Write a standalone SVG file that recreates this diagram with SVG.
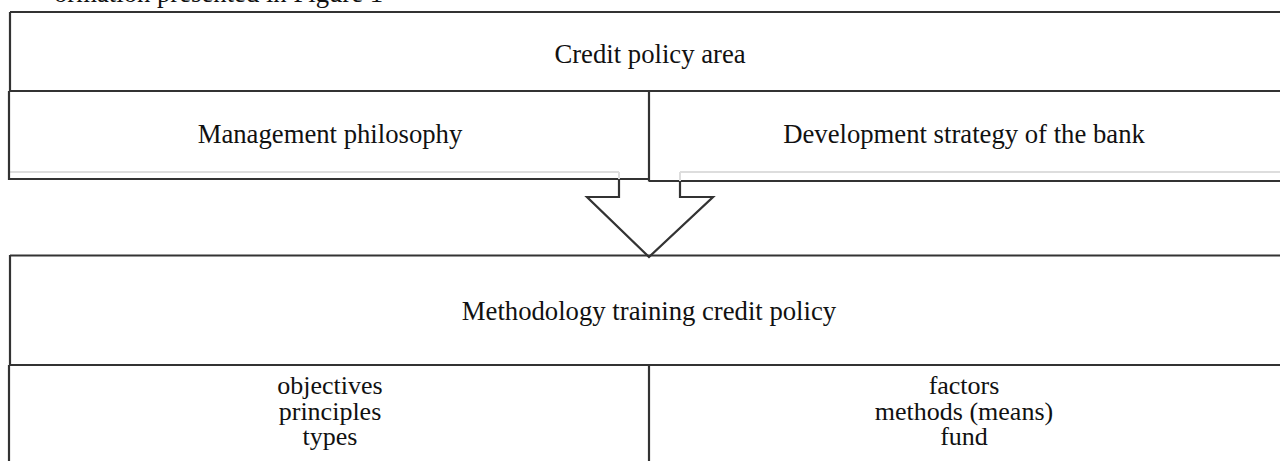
<svg xmlns="http://www.w3.org/2000/svg" width="1280" height="461" viewBox="0 0 1280 461">
<style>
.ln{stroke:#333;stroke-width:2.2;fill:none}
.fa{stroke:#ddd;stroke-width:2;fill:none}
text{font-family:"Liberation Serif","Times New Roman",serif;font-size:26.7px;fill:#111}
.c{text-anchor:middle}
.s{font-size:26px}
</style>
<rect width="1280" height="461" fill="#fff"/>
<text x="54" y="1.5">ormation presented in Figure 1</text>
<g id="credit-policy-area">
<path class="ln" d="M10 12H1281M10 12V91M9 91H1281"/>
<text class="c" x="650" y="63">Credit policy area</text>
</g>
<g id="management-philosophy">
<path class="fa" d="M10 172H619"/>
<path class="ln" d="M9 91V180M8 179H649"/>
<text class="c" x="330" y="143">Management philosophy</text>
</g>
<g id="development-strategy">
<path class="fa" d="M680 172H1281"/>
<path class="ln" d="M649 91V181.5M649 181H1281"/>
<text class="c" x="964" y="143">Development strategy of the bank</text>
</g>
<g id="connectors">
<path class="fa" d="M619 172V179M680 172V181"/>
<path class="ln" d="M619 179V197H587L649 257L713 197H680V181" stroke-linejoin="miter"/>
</g>
<g id="methodology">
<path class="ln" d="M10 255.5H1281M10 255V365M9 365H1281"/>
<text class="c" x="649" y="320">Methodology training credit policy</text>
</g>
<g id="objectives-cell">
<path class="ln" d="M9 365V462"/>
<text class="c s" x="330" y="394">objectives</text>
<text class="c s" x="330" y="420">principles</text>
<text class="c s" x="330" y="445">types</text>
</g>
<g id="factors-cell">
<path class="ln" d="M649 365V462"/>
<text class="c s" x="964" y="394">factors</text>
<text class="c s" x="964" y="420">methods (means)</text>
<text class="c s" x="964" y="445">fund</text>
</g>
</svg>
